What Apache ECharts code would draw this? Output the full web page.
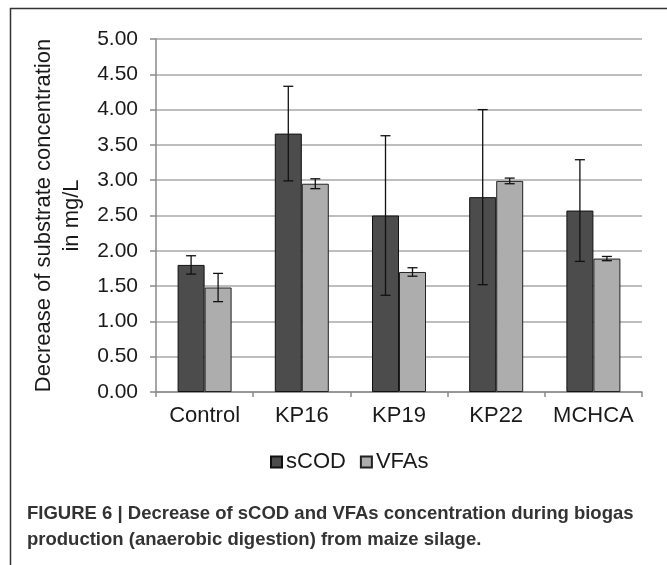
<!DOCTYPE html>
<html>
<head>
<meta charset="utf-8">
<script src="https://cdn.jsdelivr.net/npm/echarts@6/dist/echarts.min.js"></script>
<style>
html,body{margin:0;padding:0;background:#fff;}
#chart{width:667px;height:565px;}
</style>
</head>
<body>
<div id="chart"></div>
<script>
var categories = ['Control', 'KP16', 'KP19', 'KP22', 'MCHCA'];
var sCOD = [1.80, 3.66, 2.50, 2.76, 2.57];
var sCODErr = [0.13, 0.67, 1.13, 1.24, 0.72];
var VFAs = [1.48, 2.95, 1.70, 2.99, 1.89];
var VFAsErr = [0.20, 0.07, 0.06, 0.04, 0.03];
var yTicks = ['0.00','0.50','1.00','1.50','2.00','2.50','3.00','3.50','4.00','4.50','5.00'];
var yTitle = 'Decrease of substrate concentration\nin mg/L';
var captionLines = [
  'FIGURE 6 | Decrease of sCOD and VFAs concentration during biogas',
  'production (anaerobic digestion) from maize silage.'
];

var FONT = '"Liberation Sans", Arial, sans-serif';
var BAR_W = 27;

function errSeries(name, vals, errs, side) {
  var data = vals.map(function (v, i) { return [i, v - errs[i], v + errs[i]]; });
  return {
    type: 'custom',
    name: name + ' err',
    z: 10,
    silent: true,
    data: data,
    renderItem: function (params, api) {
      var i = api.value(0);
      var lo = api.coord([i, api.value(1)]);
      var hi = api.coord([i, api.value(2)]);
      var x = lo[0] + side * BAR_W / 2;
      var cap = 5;
      var st = { stroke: '#111', lineWidth: 1.3 };
      return {
        type: 'group',
        children: [
          { type: 'line', shape: { x1: x, y1: lo[1], x2: x, y2: hi[1] }, style: st },
          { type: 'line', shape: { x1: x - cap, y1: lo[1], x2: x + cap, y2: lo[1] }, style: st },
          { type: 'line', shape: { x1: x - cap, y1: hi[1], x2: x + cap, y2: hi[1] }, style: st }
        ]
      };
    }
  };
}

var chart = echarts.init(document.getElementById('chart'), null, { renderer: 'canvas' });
chart.setOption({
  animation: false,
  backgroundColor: '#fff',
  textStyle: { fontFamily: FONT },
  grid: { left: 156, right: 25, top: 39, bottom: 173, containLabel: false },
  legend: {
    data: ['sCOD', 'VFAs'],
    left: 265,
    top: 446,
    itemWidth: 11,
    itemHeight: 11,
    itemGap: 14,
    icon: 'rect',
    textStyle: { fontFamily: FONT, fontSize: 22, color: '#1a1a1a', padding: [0, 0, 0, -1] }
  },
  xAxis: {
    type: 'category',
    data: categories,
    axisLine: { lineStyle: { color: '#8a8a8a', width: 1.5 } },
    axisTick: { show: true, length: 5, lineStyle: { color: '#8a8a8a', width: 1.5 } },
    axisLabel: { interval: 0, fontFamily: FONT, fontSize: 22, color: '#1a1a1a', margin: 13 }
  },
  yAxis: {
    type: 'value',
    min: 0,
    max: 5,
    interval: 0.5,
    name: yTitle,
    nameLocation: 'middle',
    nameRotate: 90,
    nameGap: 70,
    nameTextStyle: { fontFamily: FONT, fontSize: 22, color: '#1a1a1a', lineHeight: 28 },
    axisLine: { show: true, lineStyle: { color: '#8a8a8a', width: 1.5 } },
    axisTick: { show: true, length: 6, lineStyle: { color: '#8a8a8a', width: 1.5 } },
    axisLabel: {
      fontFamily: FONT, fontSize: 21, color: '#1a1a1a', margin: 18,
      formatter: function (v) { return yTicks[Math.round(v / 0.5)]; }
    },
    splitLine: { show: true, lineStyle: { color: '#a9a9a9', width: 1.5 } }
  },
  series: [
    {
      name: 'sCOD', type: 'bar', data: sCOD, barWidth: BAR_W, barGap: '0%',
      itemStyle: { color: '#4c4c4c', borderColor: '#111', borderWidth: 1 }
    },
    {
      name: 'VFAs', type: 'bar', data: VFAs, barWidth: BAR_W, barGap: '0%',
      itemStyle: { color: '#adadad', borderColor: '#222', borderWidth: 1 }
    },
    errSeries('sCOD', sCOD, sCODErr, -1),
    errSeries('VFAs', VFAs, VFAsErr, 1)
  ],
  graphic: [
    { type: 'line', shape: { x1: 10, y1: 8.5, x2: 667, y2: 8.5 }, style: { stroke: '#333', lineWidth: 1.5 } },
    { type: 'line', shape: { x1: 10.5, y1: 8, x2: 10.5, y2: 565 }, style: { stroke: '#333', lineWidth: 1.5 } },
    { type: 'text', left: 27, top: 504, style: { text: captionLines[0], font: 'bold 18.5px ' + FONT, fill: '#333' } },
    { type: 'text', left: 27, top: 530, style: { text: captionLines[1], font: 'bold 18.5px ' + FONT, fill: '#333' } }
  ]
});
</script>
</body>
</html>
